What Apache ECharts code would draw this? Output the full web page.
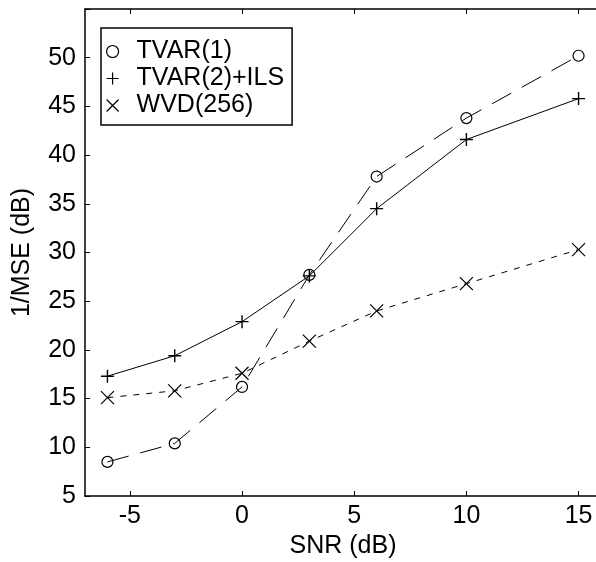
<!DOCTYPE html>
<html>
<head>
<meta charset="utf-8">
<script src="https://cdn.jsdelivr.net/npm/echarts@6/dist/echarts.min.js"></script>
<style>html,body{margin:0;padding:0;background:#fff;}#c{width:596px;height:562px;}</style>
</head>
<body>
<div id="c"></div>
<script>
var snr = [-6, -3, 0, 3, 6, 10, 15];
var tvar1 = [8.5, 10.4, 16.2, 27.7, 37.8, 43.8, 50.2];
var tvar2ils = [17.3, 19.4, 22.9, 27.6, 34.5, 41.6, 45.8];
var wvd256 = [15.1, 15.8, 17.6, 20.9, 24.0, 26.8, 30.3];
var seriesNames = ['TVAR(1)', 'TVAR(2)+ILS', 'WVD(256)'];
var xTicks = [-5, 0, 5, 10, 15];
var yTicks = [5, 10, 15, 20, 25, 30, 35, 40, 45, 50];
var yTicksAll = [5, 10, 15, 20, 25, 30, 35, 40, 45, 50, 55];

function pairs(ys) { return snr.map(function (x, i) { return [x, ys[i]]; }); }

var plusPath = 'path://M0,6L12,6M6,0L6,12';
var crossPath = 'path://M0,0L12,12M12,0L0,12';
var FONT = "'Liberation Sans', Arial, sans-serif";

var chart = echarts.init(document.getElementById('c'), null, {renderer: 'canvas'});
var axisLine = {show: true, onZero: false, lineStyle: {color: '#000', width: 1.5}};
var tickLine = {color: '#000', width: 1};
chart.setOption({
  animation: false,
  backgroundColor: '#fff',
  textStyle: {fontFamily: FONT},
  grid: {left: 85, top: 9, right: -5, bottom: 66, containLabel: false, outerBoundsMode: 'none'},
  legend: {
    orient: 'vertical', left: 101, top: 28,
    backgroundColor: '#fff', borderColor: '#000', borderWidth: 1.5, borderRadius: 0,
    padding: [11, 8, 7, 5], itemGap: 2, itemWidth: 12, itemHeight: 12,
    itemStyle: {color: 'transparent', borderColor: '#000', borderWidth: 1.2},
    textStyle: {fontSize: 25, lineHeight: 25, color: '#000', fontFamily: FONT, padding: [0, 0, 0, 13]},
    data: [
      {name: seriesNames[0], icon: 'circle'},
      {name: seriesNames[1], icon: plusPath},
      {name: seriesNames[2], icon: crossPath}
    ]
  },
  xAxis: [{
    type: 'value', min: -7, max: 16, position: 'bottom',
    axisLine: axisLine,
    axisTick: {show: true, inside: true, length: 5, customValues: xTicks, lineStyle: tickLine},
    axisLabel: {customValues: xTicks, fontSize: 25, color: '#000', margin: 8, fontFamily: FONT},
    splitLine: {show: false},
    name: 'SNR (dB)', nameLocation: 'middle', nameGap: 38,
    nameTextStyle: {fontSize: 25, color: '#000', fontFamily: FONT}
  }, {
    type: 'value', min: -7, max: 16, position: 'top',
    axisLine: axisLine,
    axisTick: {show: true, inside: true, length: 5, customValues: xTicks, lineStyle: tickLine},
    axisLabel: {show: false},
    splitLine: {show: false}
  }],
  yAxis: [{
    type: 'value', min: 5, max: 55, interval: 5, position: 'left',
    axisLine: axisLine,
    axisTick: {show: true, inside: true, length: 5, customValues: yTicksAll, lineStyle: tickLine},
    axisLabel: {customValues: yTicks, fontSize: 25, color: '#000', margin: 9, fontFamily: FONT},
    splitLine: {show: false},
    name: '1/MSE (dB)', nameLocation: 'middle', nameGap: 50, nameRotate: 90,
    nameTextStyle: {fontSize: 25, color: '#000', fontFamily: FONT}
  }, {
    type: 'value', min: 5, max: 55, interval: 5, position: 'right',
    axisLine: axisLine,
    axisTick: {show: true, inside: true, length: 5, customValues: yTicksAll, lineStyle: tickLine},
    axisLabel: {show: false},
    splitLine: {show: false}
  }],
  series: [{
    name: seriesNames[0], type: 'line', data: pairs(tvar1),
    symbol: 'circle', symbolSize: 11,
    itemStyle: {color: 'transparent', borderColor: '#000', borderWidth: 1.2},
    lineStyle: {color: '#000', width: 1, type: [22, 12]}
  }, {
    name: seriesNames[1], type: 'line', data: pairs(tvar2ils),
    symbol: plusPath, symbolSize: 13,
    itemStyle: {color: 'transparent', borderColor: '#000', borderWidth: 1.4},
    lineStyle: {color: '#000', width: 1, type: 'solid'}
  }, {
    name: seriesNames[2], type: 'line', data: pairs(wvd256),
    symbol: crossPath, symbolSize: 13,
    itemStyle: {color: 'transparent', borderColor: '#000', borderWidth: 1.2},
    lineStyle: {color: '#000', width: 1, type: [6, 7]}
  }]
});
</script>
</body>
</html>
